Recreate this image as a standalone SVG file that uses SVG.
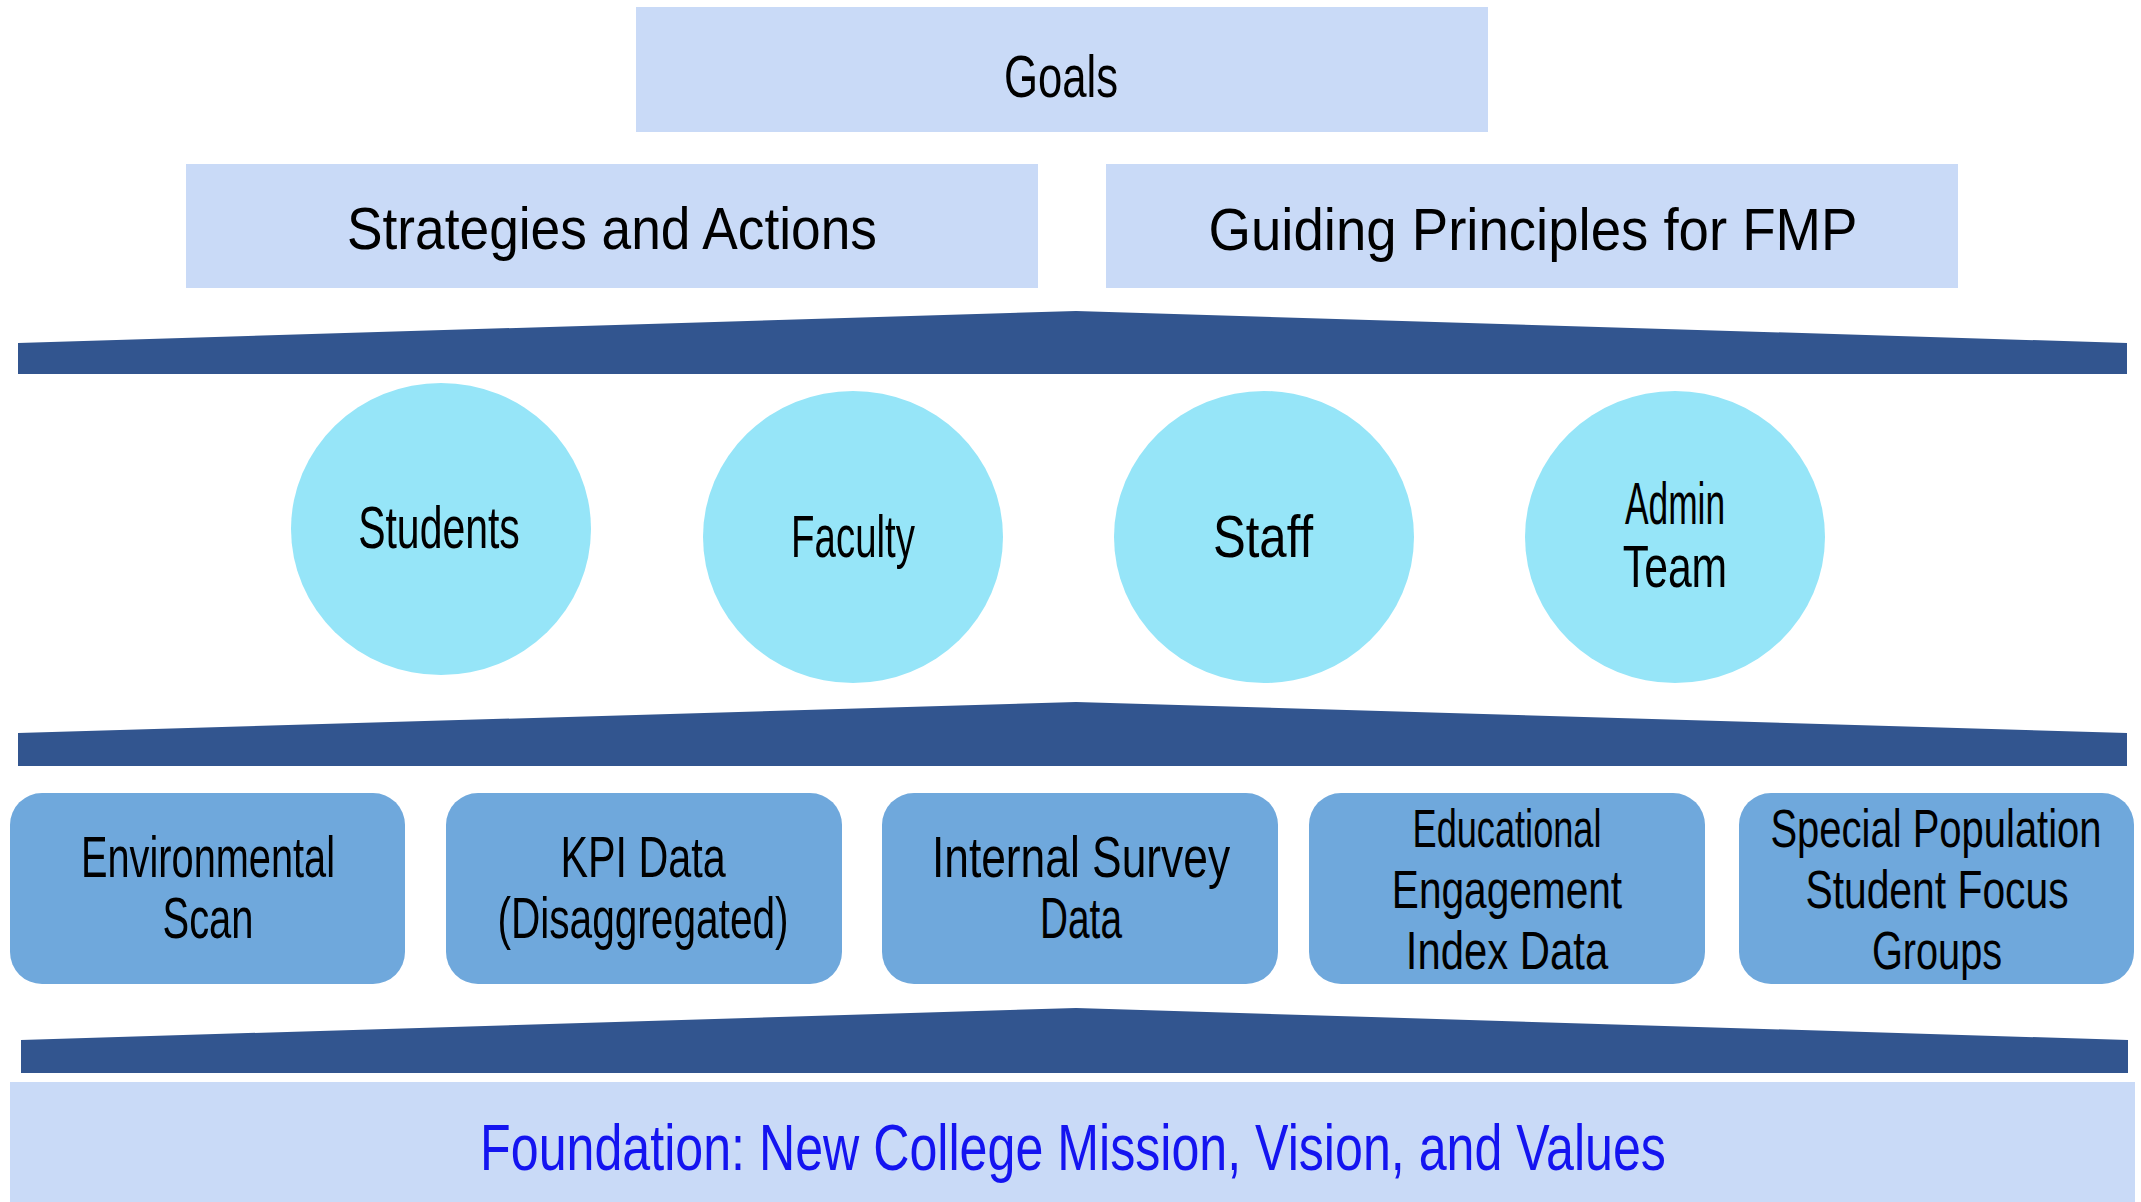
<svg xmlns="http://www.w3.org/2000/svg" width="2141" height="1202" viewBox="0 0 2141 1202">
<style>
.hdr{fill:#c9daf7}
.band{fill:#32558f}
.circ{fill:#96e5f8}
.data{fill:#6fa8dc}
text{font-family:"Liberation Sans Narrow","Liberation Sans",Arial,sans-serif;fill:#000;text-anchor:middle}
.t60{font-size:60px}
.t58{font-size:58px}
.t54{font-size:53px}
.found{font-size:64px;fill:#1414f0}
</style>
<rect width="2141" height="1202" fill="#ffffff"/>
<g id="goals">
<rect class="hdr" x="636" y="7" width="852" height="125"/>
<text class="t60" transform="translate(1061,97) scale(0.7,1)" x="0" y="0" textLength="163" lengthAdjust="spacingAndGlyphs">Goals</text>
</g>
<g id="strategies">
<rect class="hdr" x="186" y="164" width="852" height="124"/>
<text class="t60" transform="translate(612,249) scale(0.7,1)" x="0" y="0" textLength="757" lengthAdjust="spacingAndGlyphs">Strategies and Actions</text>
</g>
<g id="principles">
<rect class="hdr" x="1106" y="164" width="852" height="124"/>
<text class="t60" transform="translate(1533,250) scale(0.7,1)" x="0" y="0" textLength="927" lengthAdjust="spacingAndGlyphs">Guiding Principles for FMP</text>
</g>
<g id="connectors">
<polygon class="band" points="18,343 1076,311 2127,343 2127,374 18,374"/>
<polygon class="band" points="18,733 1076,702 2127,733 2127,766 18,766"/>
<polygon class="band" points="21,1040 1076,1008 2128,1040 2128,1073 21,1073"/>
</g>
<g id="students">
<ellipse class="circ" cx="441" cy="529" rx="150" ry="146"/>
<text class="t60" transform="translate(439,548) scale(0.7,1)" x="0" y="0" textLength="231" lengthAdjust="spacingAndGlyphs">Students</text>
</g>
<g id="faculty">
<ellipse class="circ" cx="853" cy="537" rx="150" ry="146"/>
<text class="t60" transform="translate(853,557) scale(0.7,1)" x="0" y="0" textLength="177" lengthAdjust="spacingAndGlyphs">Faculty</text>
</g>
<g id="staff">
<ellipse class="circ" cx="1264" cy="537" rx="150" ry="146"/>
<text class="t60" transform="translate(1263,557) scale(0.7,1)" x="0" y="0" textLength="143" lengthAdjust="spacingAndGlyphs">Staff</text>
</g>
<g id="admin">
<ellipse class="circ" cx="1675" cy="537" rx="150" ry="146"/>
<text class="t60" transform="translate(1675,524) scale(0.7,1)" x="0" y="0" textLength="143" lengthAdjust="spacingAndGlyphs">Admin</text>
<text class="t60" transform="translate(1675,587) scale(0.7,1)" x="0" y="0" textLength="149" lengthAdjust="spacingAndGlyphs">Team</text>
</g>
<g id="env">
<rect class="data" x="10" y="793" width="395" height="191" rx="32" ry="32"/>
<text class="t58" transform="translate(208,877) scale(0.7,1)" x="0" y="0" textLength="363" lengthAdjust="spacingAndGlyphs">Environmental</text>
<text class="t58" transform="translate(208,938) scale(0.7,1)" x="0" y="0" textLength="130" lengthAdjust="spacingAndGlyphs">Scan</text>
</g>
<g id="kpi">
<rect class="data" x="446" y="793" width="396" height="191" rx="32" ry="32"/>
<text class="t58" transform="translate(643,877) scale(0.7,1)" x="0" y="0" textLength="236" lengthAdjust="spacingAndGlyphs">KPI Data</text>
<text class="t58" transform="translate(643,938) scale(0.7,1)" x="0" y="0" textLength="416" lengthAdjust="spacingAndGlyphs">(Disaggregated)</text>
</g>
<g id="survey">
<rect class="data" x="882" y="793" width="396" height="191" rx="32" ry="32"/>
<text class="t58" transform="translate(1081,877) scale(0.7,1)" x="0" y="0" textLength="426" lengthAdjust="spacingAndGlyphs">Internal Survey</text>
<text class="t58" transform="translate(1081,938) scale(0.7,1)" x="0" y="0" textLength="117" lengthAdjust="spacingAndGlyphs">Data</text>
</g>
<g id="engagement">
<rect class="data" x="1309" y="793" width="396" height="191" rx="32" ry="32"/>
<text class="t54" transform="translate(1507,847) scale(0.7,1)" x="0" y="0" textLength="270" lengthAdjust="spacingAndGlyphs">Educational</text>
<text class="t54" transform="translate(1507,908) scale(0.7,1)" x="0" y="0" textLength="329" lengthAdjust="spacingAndGlyphs">Engagement</text>
<text class="t54" transform="translate(1507,969) scale(0.7,1)" x="0" y="0" textLength="289" lengthAdjust="spacingAndGlyphs">Index Data</text>
</g>
<g id="focus">
<rect class="data" x="1739" y="793" width="395" height="191" rx="32" ry="32"/>
<text class="t54" transform="translate(1936,847) scale(0.7,1)" x="0" y="0" textLength="473" lengthAdjust="spacingAndGlyphs">Special Population</text>
<text class="t54" transform="translate(1937,908) scale(0.7,1)" x="0" y="0" textLength="376" lengthAdjust="spacingAndGlyphs">Student Focus</text>
<text class="t54" transform="translate(1937,969) scale(0.7,1)" x="0" y="0" textLength="186" lengthAdjust="spacingAndGlyphs">Groups</text>
</g>
<g id="foundation">
<rect class="hdr" x="10" y="1082" width="2125" height="120"/>
<text class="found" transform="translate(1073,1170) scale(0.7,1)" x="0" y="0" textLength="1694" lengthAdjust="spacingAndGlyphs">Foundation: New College Mission, Vision, and Values</text>
</g>
</svg>
